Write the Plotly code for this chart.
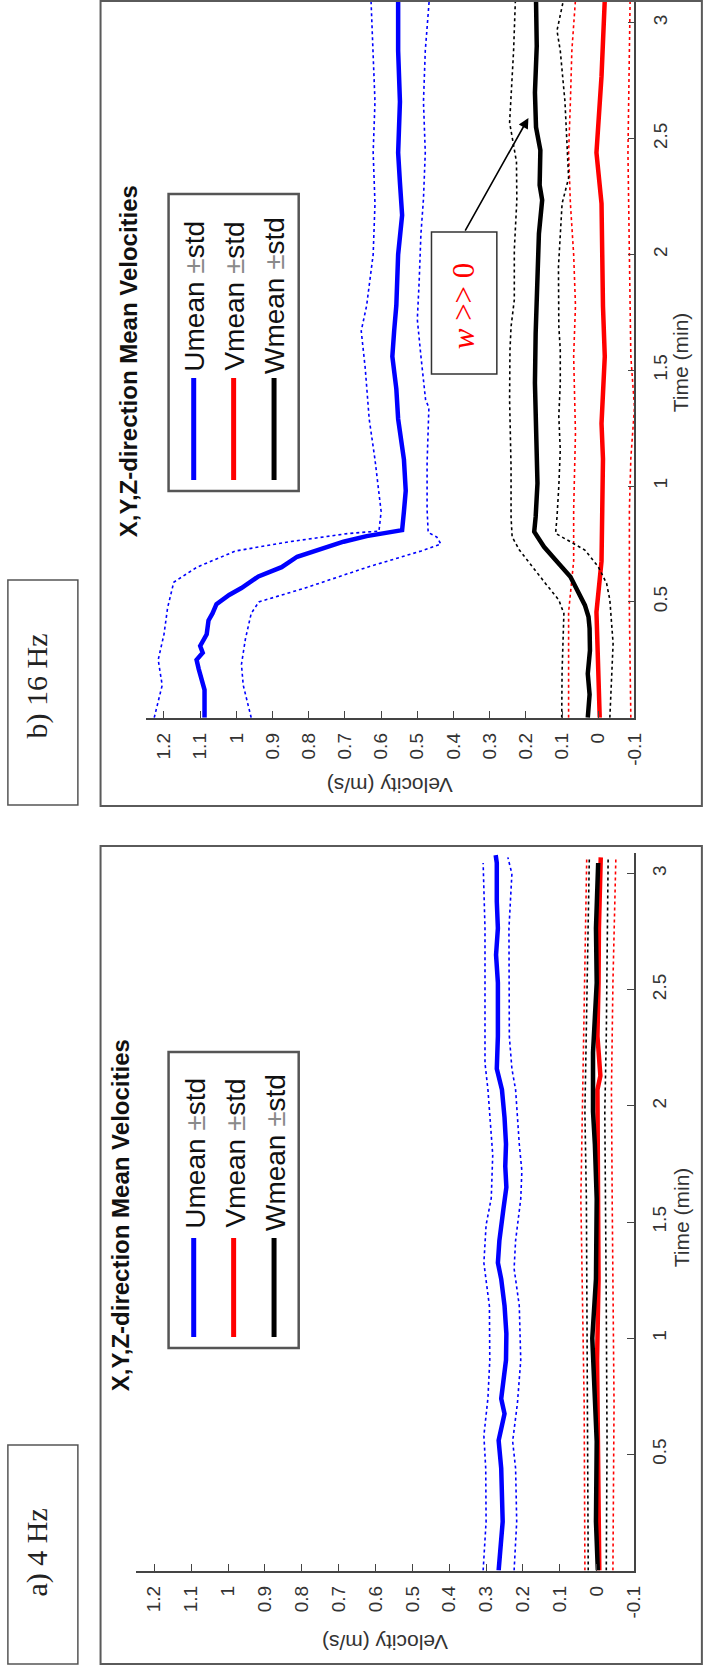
import plotly.graph_objects as go

W_PX, H_PX = 704, 1667

# ---------------- data : panel b) 16 Hz ----------------
t16_u = [0.0, 0.12, 0.21, 0.25, 0.28, 0.31, 0.36, 0.42, 0.45, 0.49, 0.53, 0.56, 0.61, 0.65, 0.695,
         0.73, 0.76, 0.784, 0.795, 0.806, 0.81, 0.89, 0.98, 1.115, 1.29, 1.42, 1.56, 1.67, 1.78,
         2.0, 2.17, 2.31, 2.44, 2.66, 2.88, 3.1]
u16_mean = [1.088, 1.088, 1.104, 1.11, 1.093, 1.10, 1.082, 1.077, 1.066, 1.055, 1.02, 0.986, 0.939,
            0.875, 0.832, 0.768, 0.704, 0.64, 0.597, 0.553, 0.542, 0.537, 0.532, 0.537, 0.553,
            0.558, 0.569, 0.564, 0.558, 0.553, 0.542, 0.548, 0.553, 0.548, 0.553, 0.553]
t16_uhi = [0.0, 0.14, 0.25, 0.36, 0.475, 0.54, 0.585, 0.65, 0.72, 0.76, 0.795, 0.806, 0.89, 1.115,
           1.29, 1.51, 1.67, 1.78, 2.0, 2.22, 2.44, 2.66, 2.88, 3.1]
u16_hi = [1.227, 1.205, 1.216, 1.2, 1.19, 1.179, 1.173, 1.109, 1.002, 0.852, 0.692, 0.606, 0.6,
          0.617, 0.633, 0.644, 0.655, 0.64, 0.622, 0.617, 0.622, 0.617, 0.622, 0.628]
t16_ulo = [0.0, 0.14, 0.23, 0.34, 0.45, 0.5, 0.56, 0.65, 0.72, 0.75, 0.78, 0.8, 0.9, 1.1, 1.34,
           1.37, 1.56, 1.72, 1.88, 2.09, 2.24, 2.44, 2.66, 2.88, 3.1]
u16_lo = [0.959, 0.981, 0.986, 0.975, 0.959, 0.938, 0.81, 0.638, 0.489, 0.435, 0.446, 0.47, 0.473,
          0.473, 0.468, 0.477, 0.49, 0.5, 0.495, 0.49, 0.483, 0.478, 0.483, 0.478, 0.467]

t16_v = [0.0, 0.456, 0.676, 1.117, 1.27, 1.56, 1.777, 2.22, 2.44, 2.77, 3.1]
v16_mean = [-0.004, 0.005, -0.009, -0.013, -0.009, -0.018, -0.013, -0.009, 0.005, -0.009, -0.018]
t16_vhi = [0.0, 0.456, 0.676, 0.897, 1.23, 1.56, 1.78, 2.0, 2.22, 2.44, 2.66, 2.88, 3.1]
v16_hi = [0.082, 0.082, 0.068, 0.068, 0.063, 0.068, 0.063, 0.068, 0.077, 0.082, 0.077, 0.073, 0.063]
t16_vlo = [0.0, 0.456, 0.897, 1.12, 1.34, 1.56, 2.0, 2.44, 2.88, 3.1]
v16_lo = [-0.09, -0.086, -0.086, -0.09, -0.1, -0.09, -0.086, -0.082, -0.086, -0.088]

t16_w = [0.0, 0.1, 0.19, 0.29, 0.386, 0.436, 0.486, 0.537, 0.609, 0.681, 0.738, 0.803, 0.867,
         1.012, 1.228, 1.444, 1.66, 1.876, 2.09, 2.235, 2.3, 2.45, 2.55, 2.7, 2.9, 3.1]
w16_mean = [0.029, 0.024, 0.029, 0.023, 0.024, 0.027, 0.037, 0.055, 0.077, 0.118, 0.15, 0.177,
            0.173, 0.168, 0.171, 0.175, 0.173, 0.17, 0.164, 0.155, 0.162, 0.16, 0.172, 0.175,
            0.17, 0.172]
t16_whi = [0.0, 0.2, 0.45, 0.508, 0.58, 0.652, 0.724, 0.781, 0.867, 1.084, 1.372, 1.588, 1.688,
           1.804, 2.02, 2.235, 2.4, 2.57, 2.88, 3.1]
w16_hi = [0.101, 0.1, 0.095, 0.109, 0.146, 0.182, 0.218, 0.238, 0.241, 0.241, 0.245, 0.244,
          0.241, 0.232, 0.232, 0.225, 0.226, 0.245, 0.234, 0.229]
t16_wlo = [0.0, 0.32, 0.508, 0.58, 0.652, 0.724, 0.796, 0.867, 1.0, 1.156, 1.3, 1.444, 1.588,
           1.69, 1.947, 2.09, 2.22, 2.33, 2.5, 2.66, 2.88, 2.967, 3.1]
w16_lo = [-0.032, -0.041, -0.032, -0.023, 0.0, 0.037, 0.118, 0.114, 0.109, 0.105, 0.109, 0.105,
          0.105, 0.109, 0.11, 0.105, 0.10, 0.082, 0.087, 0.092, 0.105, 0.114, 0.096]

# ---------------- data : panel a) 4 Hz ----------------
t4_u = [0.0, 0.21, 0.44, 0.56, 0.675, 0.74, 0.906, 1.02, 1.14, 1.255, 1.325, 1.42, 1.556, 1.65,
        1.74, 1.836, 1.95, 2.07, 2.16, 2.3, 2.53, 2.65, 2.765, 2.88, 3.046, 3.08]
u4_mean = [0.266, 0.255, 0.259, 0.266, 0.25, 0.259, 0.246, 0.245, 0.25, 0.259, 0.268, 0.264,
           0.253, 0.245, 0.248, 0.246, 0.25, 0.257, 0.271, 0.268, 0.268, 0.273, 0.268, 0.271,
           0.271, 0.274]
t4_uhi = [0.0, 0.21, 0.44, 0.58, 0.743, 0.906, 1.138, 1.324, 1.487, 1.603, 1.789, 1.952, 2.07,
          2.184, 2.533, 2.766, 3.046]
u4_hi = [0.308, 0.3, 0.301, 0.306, 0.295, 0.29, 0.291, 0.306, 0.3, 0.286, 0.282, 0.29, 0.295,
         0.303, 0.303, 0.303, 0.308]
t4_ulo = [0.0, 0.21, 0.44, 0.556, 0.72, 0.906, 1.14, 1.30, 1.42, 1.6, 1.72, 1.836, 2.07, 2.16,
          2.3, 2.53, 2.765, 3.0, 3.07]
u4_lo = [0.224, 0.217, 0.22, 0.228, 0.215, 0.206, 0.21, 0.224, 0.22, 0.206, 0.203, 0.21, 0.22,
         0.23, 0.237, 0.237, 0.238, 0.23, 0.241]

t4_v = [0.0, 0.21, 0.556, 0.906, 1.255, 1.6, 1.975, 2.07, 2.13, 2.3, 2.53, 2.765, 3.07]
v4_mean = [-0.007, -0.005, -0.004, -0.001, -0.005, -0.004, -0.002, -0.002, -0.01, -0.002,
           -0.005, -0.006, -0.011]
t4_vband = [0.0, 0.72, 1.6, 2.07, 2.53, 3.07]
v4_hi = [0.032, 0.034, 0.043, 0.038, 0.032, 0.027]
v4_lo = [-0.044, -0.047, -0.042, -0.04, -0.044, -0.052]

t4_w = [0.0, 0.21, 0.556, 0.906, 1.0, 1.255, 1.6, 1.836, 1.975, 2.23, 2.53, 2.765, 3.046]
w4_mean = [-0.003, 0.002, 0.0, 0.008, 0.012, 0.002, 0.0, 0.005, 0.01, 0.01, 0.0, 0.002, -0.004]
t4_wband = [0.0, 0.556, 1.14, 1.6, 1.975, 2.3, 2.53, 3.07]
w4_hi = [0.023, 0.025, 0.028, 0.028, 0.032, 0.028, 0.025, 0.02]
w4_lo = [-0.026, -0.028, -0.026, -0.024, -0.022, -0.026, -0.028, -0.031]

# ---------------- ticks / labels ----------------
vel_ticks = [1.2, 1.1, 1.0, 0.9, 0.8, 0.7, 0.6, 0.5, 0.4, 0.3, 0.2, 0.1, 0.0, -0.1]
vel_labels = ["1.2", "1.1", "1", "0.9", "0.8", "0.7", "0.6", "0.5", "0.4", "0.3", "0.2", "0.1",
              "0", "-0.1"]
time_ticks = [0.5, 1, 1.5, 2, 2.5, 3]
time_labels = ["0.5", "1", "1.5", "2", "2.5", "3"]
series_names = ["Umean", "Vmean", "Wmean"]
series_colors = ["#0000ff", "#ff0000", "#000000"]
title_text = "X,Y,Z-direction Mean Velocities"
panel_labels = ["b) 16 Hz", "a) 4 Hz"]


def PX(x):
    return x / W_PX


def PY(y):
    return 1 - y / H_PX


fig = go.Figure()

panels = [
    dict(xa="x", ya="y",
         U=(t16_u, u16_mean, t16_uhi, u16_hi, t16_ulo, u16_lo),
         V=(t16_v, v16_mean, t16_vhi, v16_hi, t16_vlo, v16_lo),
         W=(t16_w, w16_mean, t16_whi, w16_hi, t16_wlo, w16_lo)),
    dict(xa="x2", ya="y2",
         U=(t4_u, u4_mean, t4_uhi, u4_hi, t4_ulo, u4_lo),
         V=(t4_v, v4_mean, t4_vband, v4_hi, t4_vband, v4_lo),
         W=(t4_w, w4_mean, t4_wband, w4_hi, t4_wband, w4_lo)),
]

for p in panels:
    for key, col in zip(["U", "V", "W"], series_colors):
        tm, m, th, h, tl, lo = p[key]
        for tt, vv in ((th, h), (tl, lo)):
            fig.add_trace(go.Scatter(x=vv, y=tt, mode="lines", xaxis=p["xa"], yaxis=p["ya"],
                                     line=dict(color=col, width=1.6, dash="dot"),
                                     showlegend=False, hoverinfo="skip"))
        fig.add_trace(go.Scatter(x=m, y=tm, mode="lines", xaxis=p["xa"], yaxis=p["ya"],
                                 line=dict(color=col, width=4.5), showlegend=False,
                                 hoverinfo="skip"))

tickfont = dict(family="Liberation Sans, Arial", size=19, color="#333333")
axis_common = dict(showgrid=False, zeroline=False, showline=True, linecolor="#444444",
                   linewidth=1.5, ticks="inside", ticklen=7, tickwidth=1.3,
                   tickcolor="#444444", tickfont=tickfont, tickangle=-90)

fig.update_layout(
    width=W_PX, height=H_PX, margin=dict(l=0, r=0, t=0, b=0),
    paper_bgcolor="white", plot_bgcolor="white", showlegend=False,
    xaxis=dict(domain=[PX(148), PX(643.6)], range=[1.25, -0.1], anchor="y",
               tickvals=vel_ticks, ticktext=vel_labels, ticklabelstandoff=6, **axis_common),
    yaxis=dict(domain=[PY(717.7), 1.0], range=[0, 3.099], anchor="x", side="right",
               tickvals=time_ticks, ticktext=time_labels, ticklabelstandoff=8, **axis_common),
    xaxis2=dict(domain=[PX(137.8), PX(642.7)], range=[1.25, -0.1], anchor="y2",
                tickvals=vel_ticks, ticktext=vel_labels, ticklabelstandoff=6, **axis_common),
    yaxis2=dict(domain=[PY(1570.5), PY(853)], range=[0, 3.089], anchor="x2", side="right",
                tickvals=time_ticks, ticktext=time_labels, ticklabelstandoff=8, **axis_common),
)

shapes = []
annotations = []
border = dict(color="#5a5a5a", width=2)


def note(x, y, text, angle, font):
    return dict(xref="paper", yref="paper", x=PX(x), y=PY(y), text=text, textangle=angle,
                showarrow=False, xanchor="center", yanchor="middle", font=font)


# panel frames
for (x0, y0, x1, y1) in [(102, 1, 712, 806), (102, 846, 712, 1664)]:
    shapes.append(dict(type="rect", xref="paper", yref="paper", x0=PX(x0), x1=PX(x1),
                       y0=PY(y1), y1=PY(y0), line=border))
# panel label boxes
label_boxes = [(8, 580, 79, 805, 38, 686), (8, 1445, 79, 1664, 38, 1552)]
for lab, (x0, y0, x1, y1, tx, ty) in zip(panel_labels, label_boxes):
    shapes.append(dict(type="rect", xref="paper", yref="paper", x0=PX(x0), x1=PX(x1),
                       y0=PY(y1), y1=PY(y0), line=dict(color="#555555", width=1.5)))
    annotations.append(note(tx, ty, lab, -90,
                            dict(family="Liberation Serif, Times New Roman", size=30,
                                 color="#222222")))

# titles, axis titles and legends for both panels
panel_geo = [
    dict(title=(131, 361), vel=(395, 786), time=(690, 362), leg=(171, 194, 303, 491),
         legx=[196.5, 237, 278], legline=(378, 480), legtext=296),
    dict(title=(122, 1215), vel=(390, 1643), time=(691, 1217), leg=(171, 1052, 303, 1348),
         legx=[196.5, 237, 278], legline=(1238, 1337), legtext=1153),
]
for g in panel_geo:
    annotations.append(note(g["title"][0], g["title"][1], "<b>" + title_text + "</b>", -90,
                            dict(family="Liberation Sans, Arial", size=24, color="#111111")))
    annotations.append(note(g["vel"][0], g["vel"][1], "Velocity (m/s)", 180,
                            dict(family="Liberation Sans, Arial", size=21, color="#333333")))
    annotations.append(note(g["time"][0], g["time"][1], "Time (min)", -90,
                            dict(family="Liberation Sans, Arial", size=21, color="#333333")))
    x0, y0, x1, y1 = g["leg"]
    shapes.append(dict(type="rect", xref="paper", yref="paper", x0=PX(x0), x1=PX(x1),
                       y0=PY(y1), y1=PY(y0), line=dict(color="#555555", width=2.5),
                       fillcolor="white"))
    for name, col, lx in zip(series_names, series_colors, g["legx"]):
        shapes.append(dict(type="line", xref="paper", yref="paper", x0=PX(lx), x1=PX(lx),
                           y0=PY(g["legline"][0]), y1=PY(g["legline"][1]),
                           line=dict(color=col, width=5)))
        annotations.append(note(lx + 1, g["legtext"],
                                name + " <span style='color:#8a8a8a'>±</span>std", -90,
                                dict(family="Liberation Sans, Arial", size=28,
                                     color="#111111")))

# "w >> 0" callout in panel b
shapes.append(dict(type="rect", xref="paper", yref="paper", x0=PX(437.7), x1=PX(504),
                   y0=PY(374), y1=PY(232), line=dict(color="#333333", width=1.5),
                   fillcolor="white"))
annotations.append(note(471, 306, "<i>w</i> &gt;&gt; 0", -90,
                        dict(family="Liberation Serif, Times New Roman", size=31,
                             color="#ff0000")))
annotations.append(dict(xref="x", yref="y", x=0.193, y=2.59, axref="x", ayref="y",
                        ax=0.37, ay=2.097, text="", showarrow=True, arrowhead=2,
                        arrowsize=1.3, arrowwidth=1.6, arrowcolor="#000000"))

fig.update_layout(shapes=shapes, annotations=annotations)
fig.write_html("out.html", config={"displayModeBar": False},
               post_script="document.body.style.margin='0';"
                           "document.body.style.overflow='hidden';")
